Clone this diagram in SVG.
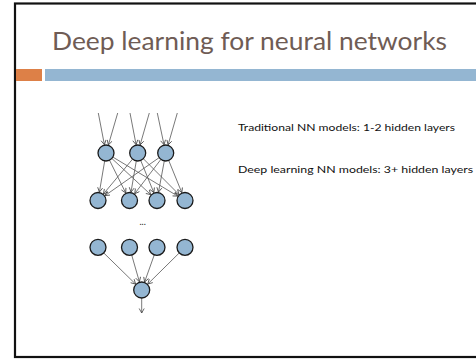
<svg xmlns="http://www.w3.org/2000/svg" width="476" height="359" viewBox="0 0 476 359">
<defs>
<style>
.node{fill:#94b6d2;stroke:#1a1a1a;stroke-width:1.3}
.edge{stroke:#555;stroke-width:0.8;fill:none;marker-end:url(#arr)}
.title{font-family:Lato,"Open Sans",sans-serif;font-size:25px;fill:#6f5c55}
.body{font-family:Lato,"Open Sans",sans-serif;font-size:9px;fill:#111}
</style>
<marker id="arr" markerUnits="userSpaceOnUse" markerWidth="8" markerHeight="8" refX="5" refY="3" orient="auto">
<path d="M0.5,0.5 L5,3 L0.5,5.5" fill="none" stroke="#444" stroke-width="0.8"/>
</marker>
</defs>
<rect x="0" y="0" width="476" height="359" fill="#fff"/>
<rect x="15" y="3.5" width="480" height="353.5" fill="none" stroke="#111" stroke-width="2.2"/>
<text class="title" x="52" y="50" textLength="395" lengthAdjust="spacingAndGlyphs">Deep learning for neural networks</text>
<rect x="16" y="69" width="26" height="12" fill="#dd8047"/>
<rect x="45" y="69" width="431" height="12" fill="#94b6d2"/>
<text class="body" x="238" y="131" textLength="217" lengthAdjust="spacingAndGlyphs">Traditional NN models: 1-2 hidden layers</text>
<text class="body" x="238" y="173" textLength="235" lengthAdjust="spacingAndGlyphs">Deep learning NN models: 3+ hidden layers</text>
<g id="connectors">
<line class="edge" x1="98.3" y1="113" x2="104.4" y2="144.7"/>
<line class="edge" x1="117.7" y1="113" x2="108.4" y2="144.9"/>
<line class="edge" x1="130" y1="113" x2="136.1" y2="144.7"/>
<line class="edge" x1="149.3" y1="113" x2="140.1" y2="144.9"/>
<line class="edge" x1="157.3" y1="113" x2="164" y2="144.7"/>
<line class="edge" x1="177.3" y1="113" x2="168.1" y2="144.9"/>
<line class="edge" x1="104.7" y1="160.9" x2="99.4" y2="192.1"/>
<line class="edge" x1="109.5" y1="160.2" x2="125.7" y2="192.9"/>
<line class="edge" x1="111.9" y1="158.5" x2="150.8" y2="194.7"/>
<line class="edge" x1="112.9" y1="157.1" x2="177.7" y2="196.1"/>
<line class="edge" x1="132.6" y1="159.1" x2="103.4" y2="194"/>
<line class="edge" x1="136.3" y1="160.9" x2="131" y2="192.1"/>
<line class="edge" x1="140.7" y1="160.4" x2="153.8" y2="192.6"/>
<line class="edge" x1="143.3" y1="158.7" x2="179" y2="194.5"/>
<line class="edge" x1="159.2" y1="157.6" x2="105" y2="195.6"/>
<line class="edge" x1="160.9" y1="159.4" x2="134.7" y2="193.7"/>
<line class="edge" x1="164.3" y1="160.9" x2="158.5" y2="192.1"/>
<line class="edge" x1="168.7" y1="160.4" x2="181.8" y2="192.6"/>
<line class="edge" x1="103.7" y1="252.9" x2="135.6" y2="284.1"/>
<line class="edge" x1="131.7" y1="255" x2="139.4" y2="281.8"/>
<line class="edge" x1="154.3" y1="254.8" x2="144.6" y2="282"/>
<line class="edge" x1="179.3" y1="252.9" x2="147.8" y2="284"/>
<line class="edge" x1="141.7" y1="298" x2="141.7" y2="313"/>
</g>
<g id="n1"><circle class="node" cx="106" cy="153" r="8"/></g>
<g id="n2"><circle class="node" cx="137.7" cy="153" r="8"/></g>
<g id="n3"><circle class="node" cx="165.7" cy="153" r="8"/></g>
<g id="h1"><circle class="node" cx="98" cy="200.5" r="8"/></g>
<g id="h2"><circle class="node" cx="129.5" cy="200.5" r="8"/></g>
<g id="h3"><circle class="node" cx="157" cy="200.5" r="8"/></g>
<g id="h4"><circle class="node" cx="185" cy="200.5" r="8"/></g>
<text x="142.7" y="225" text-anchor="middle" style="font-family:Lato,sans-serif;font-size:9px;fill:#222">...</text>
<g id="k1"><circle class="node" cx="98" cy="247.3" r="8"/></g>
<g id="k2"><circle class="node" cx="129.5" cy="247.3" r="8"/></g>
<g id="k3"><circle class="node" cx="157" cy="247.3" r="8"/></g>
<g id="k4"><circle class="node" cx="185" cy="247.3" r="8"/></g>
<g id="out"><circle class="node" cx="141.7" cy="290" r="8"/></g>
</svg>
